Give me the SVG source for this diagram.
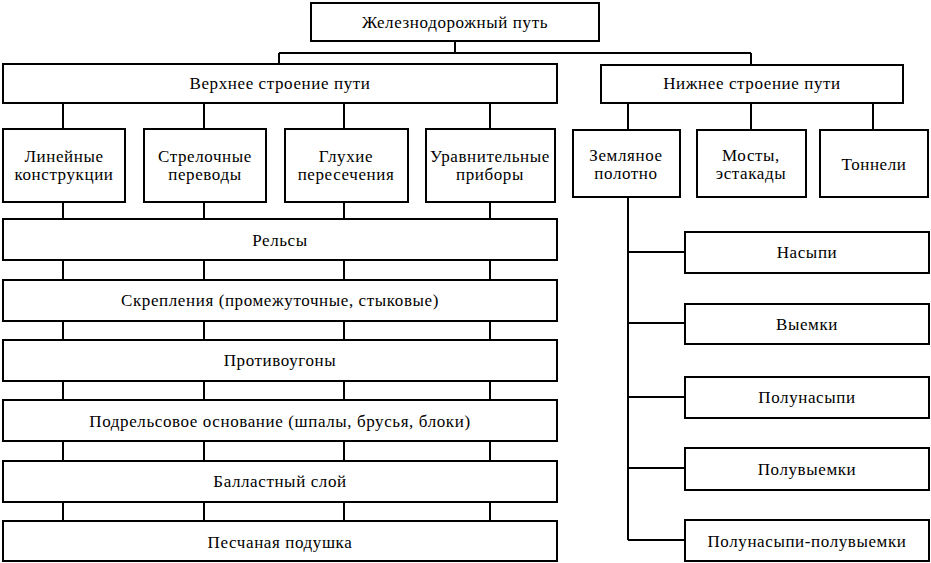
<svg xmlns="http://www.w3.org/2000/svg" width="931" height="563" viewBox="0 0 931 563">
<style>
.box{fill:#fff;stroke:#000;stroke-width:2}
.ln{fill:none;stroke:#000;stroke-width:2}
text{font-family:'Liberation Serif','DejaVu Serif',serif;font-size:17px;letter-spacing:0.6px;fill:#000;text-anchor:middle;dominant-baseline:central}
</style>
<rect width="931" height="563" fill="#fff"/>
<g id="connectors">
<path class="ln" d="M455 41V53M279 53H751M279 53V64M751 53V65"/>
<path class="ln" d="M63 103V129M204 103V129M344 103V129M490 103V129"/>
<path class="ln" d="M628 103V130M751 103V130M873 103V130"/>
<path class="ln" d="M63 202V521M204 202V521M344 202V521M490 202V521"/>
<path class="ln" d="M628 197V540M628 252H685M628 323H685M628 397H685M628 468H685M628 540H685"/>
</g>
<g id="n-root"><rect class="box" x="311" y="3" width="288" height="38"/><text x="455" y="22">Железнодорожный путь</text></g>
<g id="n-upper"><rect class="box" x="3" y="64" width="554" height="39"/><text x="280" y="83">Верхнее строение пути</text></g>
<g id="n-lower"><rect class="box" x="601" y="65" width="302" height="38"/><text x="752" y="83">Нижнее строение пути</text></g>
<g id="n-lin"><rect class="box" x="3" y="129" width="122" height="73"/><text x="64" y="156">Линейные</text><text x="64" y="174">конструкции</text></g>
<g id="n-str"><rect class="box" x="144" y="129" width="122" height="73"/><text x="205" y="156">Стрелочные</text><text x="205" y="174">переводы</text></g>
<g id="n-glu"><rect class="box" x="285" y="129" width="123" height="73"/><text x="346" y="156">Глухие</text><text x="346" y="174">пересечения</text></g>
<g id="n-ura"><rect class="box" x="426" y="129" width="129" height="73"/><text x="490" y="156">Уравнительные</text><text x="490" y="174">приборы</text></g>
<g id="n-zem"><rect class="box" x="573" y="130" width="107" height="67"/><text x="626" y="155">Земляное</text><text x="626" y="173">полотно</text></g>
<g id="n-mos"><rect class="box" x="697" y="130" width="109" height="67"/><text x="751" y="155">Мосты,</text><text x="751" y="173">эстакады</text></g>
<g id="n-ton"><rect class="box" x="820" y="130" width="108" height="67"/><text x="874" y="164">Тоннели</text></g>
<g id="n-rel"><rect class="box" x="3" y="219" width="554" height="41"/><text x="280" y="240">Рельсы</text></g>
<g id="n-skr"><rect class="box" x="3" y="280" width="554" height="41"/><text x="280" y="300">Скрепления (промежуточные, стыковые)</text></g>
<g id="n-pro"><rect class="box" x="3" y="340" width="554" height="41"/><text x="280" y="360">Противоугоны</text></g>
<g id="n-pod"><rect class="box" x="3" y="400" width="554" height="41"/><text x="280" y="421">Подрельсовое основание (шпалы, брусья, блоки)</text></g>
<g id="n-bal"><rect class="box" x="3" y="461" width="554" height="41"/><text x="280" y="481">Балластный слой</text></g>
<g id="n-pes"><rect class="box" x="3" y="521" width="554" height="40"/><text x="280" y="542">Песчаная подушка</text></g>
<g id="n-nas"><rect class="box" x="685" y="232" width="244" height="41"/><text x="807" y="252">Насыпи</text></g>
<g id="n-vye"><rect class="box" x="685" y="304" width="244" height="40"/><text x="807" y="324">Выемки</text></g>
<g id="n-pn"><rect class="box" x="685" y="377" width="244" height="41"/><text x="807" y="397">Полунасыпи</text></g>
<g id="n-pv"><rect class="box" x="685" y="448" width="244" height="42"/><text x="807" y="469">Полувыемки</text></g>
<g id="n-pnpv"><rect class="box" x="685" y="520" width="244" height="41"/><text x="807" y="541">Полунасыпи-полувыемки</text></g>
</svg>
